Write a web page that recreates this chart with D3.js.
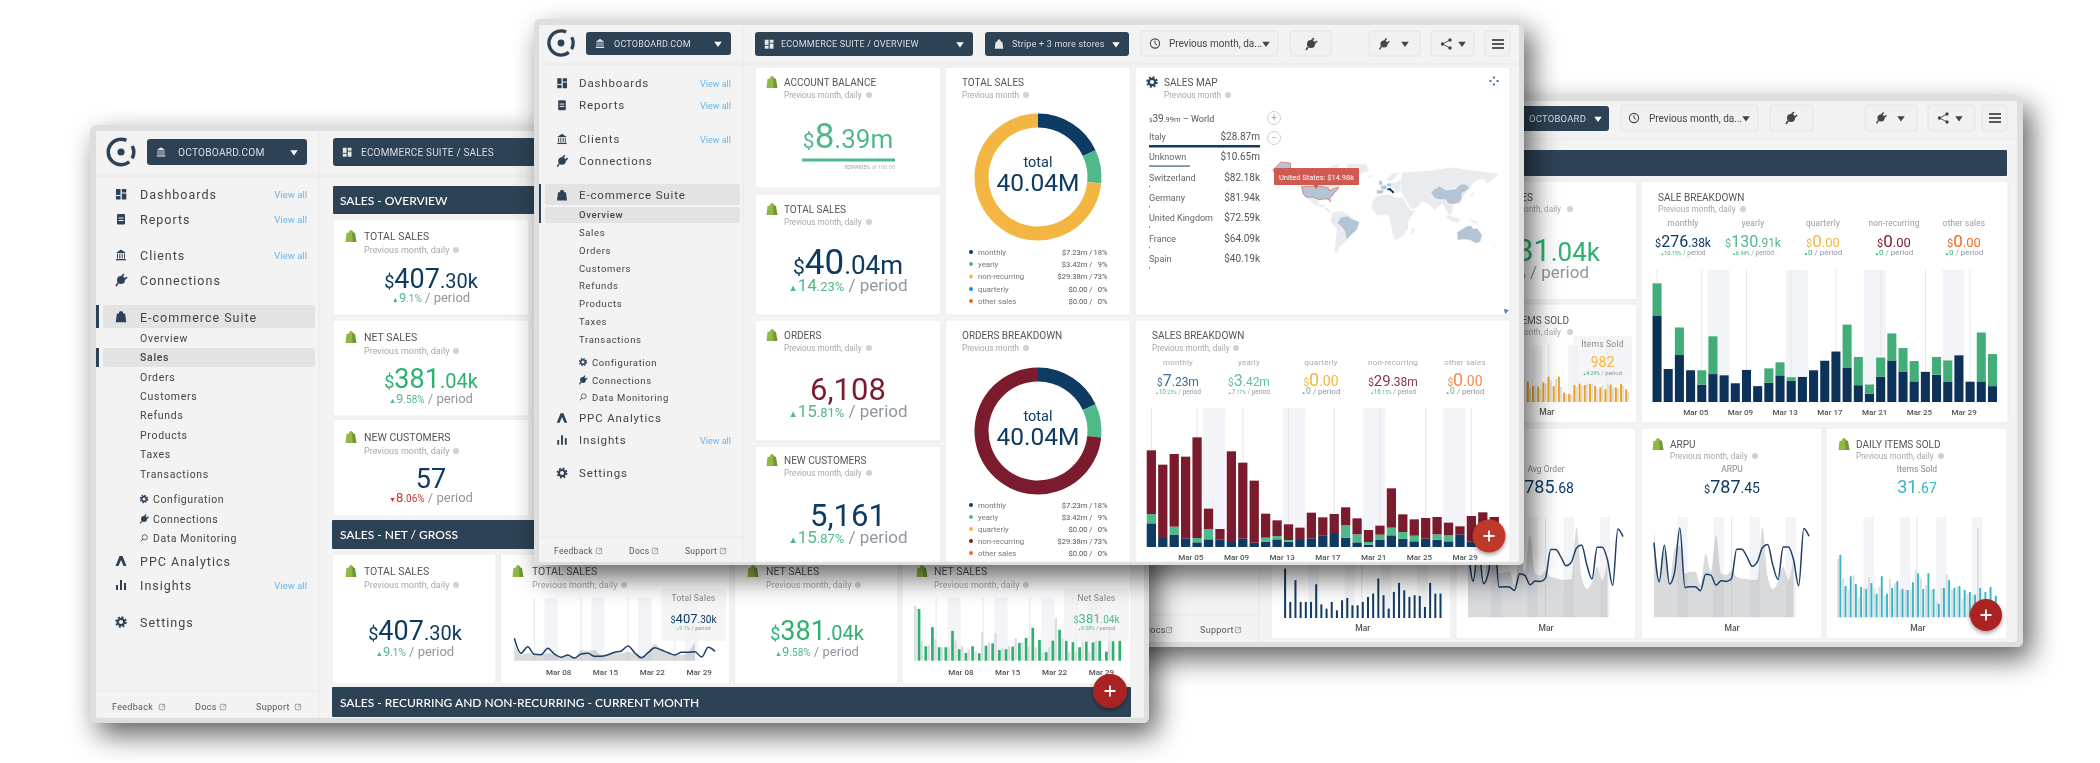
<!DOCTYPE html>
<html>
<head>
<meta charset="utf-8">
<script src="https://cdn.jsdelivr.net/npm/d3@7"></script>
<style>
html, body { margin: 0; padding: 0; background: #fff; }
text { font-family: Roboto, "Open Sans", sans-serif; }
</style>
</head>
<body>
<div id="chart"></div>
<script>
// ---- data ----
var days = d3.range(1, 32);
var monthTicks = [5, 9, 13, 17, 21, 25, 29];
var weekTicks = [8, 15, 22, 29];
var weekendDays = [[6, 7], [13, 14], [20, 21], [27, 28]];

// sales breakdown, front window ($k per day)
var frontMonthly = [710, 270, 370, 260, 140, 230, 230, 150, 260, 130, 160, 230, 160, 210, 260, 350, 420, 280, 140, 70, 210, 350, 250, 170, 250, 220, 170, 380, 170, 160, 160];
var frontYearly = [280, 0, 240, 0, 130, 310, 0, 0, 0, 0, 120, 100, 50, 0, 0, 0, 0, 370, 240, 80, 160, 230, 200, 170, 0, 160, 180, 0, 0, 0, 0];
var frontNonRecurring = [1910, 2200, 2180, 2450, 3020, 610, 310, 2720, 2270, 1860, 720, 470, 470, 370, 770, 540, 570, 540, 480, 360, 270, 1180, 530, 490, 620, 520, 380, 240, 760, 880, 740];

// sale breakdown, right window ($k per day)
var rightMonthly = [27.1, 10.4, 14.8, 10.0, 5.5, 8.8, 8.4, 5.9, 10.1, 5.0, 6.1, 8.4, 6.7, 7.9, 10.0, 13.0, 15.9, 10.9, 5.3, 2.6, 8.0, 13.1, 9.6, 6.5, 9.5, 8.6, 6.3, 14.7, 6.4, 6.5, 5.0];
var rightYearly = [10.3, 0, 8.7, 0, 4.5, 11.9, 0, 0, 0, 0, 4.5, 4.1, 1.1, 0, 0, 0, 0, 13.5, 8.9, 2.9, 6.0, 8.5, 7.4, 6.4, 0, 5.6, 6.8, 0, 0, 15.4, 10.1];

// left window mini charts ($k per day)
var totalSalesLine = [36.9, 12.1, 23.1, 10.5, 9.9, 20.4, 11, 5.5, 9.4, 4.4, 11, 12.1, 7.2, 7.2, 9.9, 13.8, 16, 24.2, 13.2, 5, 13.2, 21.5, 17.6, 13.2, 9.4, 13.8, 13.8, 14.9, 6, 22, 15.4];
var totalSalesPrev = [28.6, 9.4, 12.1, 11, 9.4, 12.1, 9.4, 5.5, 7.7, 5.5, 17.6, 16, 17.6, 9.4, 9.4, 12.1, 12.1, 14.9, 12.1, 5.5, 14.9, 27.5, 17.6, 12.1, 9.4, 9.4, 14.9, 31.4];
var netSalesBars = [33, 9.2, 21.4, 8.6, 8.6, 19, 7.3, 4.9, 9.2, 4.7, 9.6, 11.1, 6.8, 7.3, 9, 11.3, 14.6, 21, 13.3, 5.4, 12.8, 19.7, 12.6, 11.8, 8.6, 12.2, 11.6, 12.8, 5.8, 12.4, 12.8];
var netSalesPrev = [34.7, 12.8, 10, 13.7, 8.6, 8.6, 12.8, 9.4, 7.3, 5.8, 18, 11.6, 17.5, 8.1, 9.4, 14.3, 11.6, 9, 8.6, 5.1, 8.6, 27.2, 14.3, 5.8, 5.8, 12.2, 5.8, 13.3, 0.9, 20.1];

// right window mini charts
var arpuLine = [1125, 535, 1085, 500, 685, 1345, 450, 460, 460, 400, 650, 635, 485, 550, 540, 585, 1025, 1025, 910, 770, 835, 1050, 1095, 785, 570, 1060, 1060, 870, 475, 1335, 1220];
var arpuPrev = [1310, 585, 1010, 535, 1035, 1085, 660, 685, 685, 485, 960, 685, 1235, 660, 635, 700, 610, 585, 575, 560, 570, 1360, 610, 425, 535, 760, 560, 885];
var avgOrderLine = [1120, 540, 1080, 505, 690, 1340, 455, 460, 455, 405, 655, 630, 490, 545, 540, 590, 1020, 1020, 905, 775, 830, 1045, 1090, 790, 575, 1055, 1055, 865, 480, 1330, 1215];
var avgOrderPrev = [1300, 590, 1005, 540, 1030, 1080, 665, 680, 690, 490, 955, 690, 1230, 665, 630, 705, 605, 590, 570, 565, 575, 1355, 605, 430, 530, 765, 555, 880];
var dailyItems = [64, 32, 42, 34, 31, 29, 35, 24, 42, 24, 30, 37, 29, 28, 36, 45, 29, 45, 29, 14, 30, 38, 30, 32, 28, 26, 23, 30, 26, 31, 22];
var dailyItemsPrev = [60, 40, 28, 43, 21, 30, 41, 30, 31, 22, 39, 35, 28, 28, 28, 49, 40, 33, 28, 17, 30, 44, 28, 31, 19, 24, 23, 91];
var ordersBars = [148, 48, 113, 48, 48, 48, 101, 41, 28, 48, 23, 53, 60, 38, 38, 48, 63, 73, 118, 68, 28, 78, 105, 83, 63, 68, 66, 33, 105, 73, 73];
var itemsSoldDays = days.slice(11);
var itemsSoldBars = [61, 48, 46, 59, 76, 48, 76, 28, 24, 51, 61, 51, 54, 48, 44, 38, 52, 44, 54, 38];
var itemsSoldPrev = [40, 50, 40, 55, 66, 70, 45, 25, 20, 45, 50, 60, 55, 40, 50, 65, 40, 40, 50, 30];

// donuts and legends
var donutNames = ["monthly", "yearly", "non-recurring"];
var donutShares = [7.23, 3.42, 29.38];
var legendTotals = ["monthly", "yearly", "non-recurring", "quarterly", "other sales"];
var legendOrders = ["monthly", "yearly", "quarterly", "non-recurring", "other sales"];
var legendAmounts = { "monthly": "$7.23m", "yearly": "$3.42m", "non-recurring": "$29.38m", "quarterly": "$0.00", "other sales": "$0.00" };
var legendPercents = { "monthly": "18%", "yearly": "9%", "non-recurring": "73%", "quarterly": "0%", "other sales": "0%" };

// sales map table
var mapCountries = ["Italy", "Unknown", "Switzerland", "Germany", "United Kingdom", "France", "Spain"];
var mapSales = [28870, 10650, 82.18, 81.94, 72.59, 64.09, 40.19];
var mapSalesLabels = ["$28.87m", "$10.65m", "$82.18k", "$81.94k", "$72.59k", "$64.09k", "$40.19k"];

// coarse land shapes, [lon, lat]
var landLight = [
    [[-141, 70], [-120, 70], [-100, 70], [-90, 75], [-70, 83], [-62, 82], [-75, 72], [-62, 66], [-78, 62], [-82, 55], [-65, 60], [-56, 52], [-66, 47], [-75, 45], [-83, 46], [-95, 49], [-124, 48], [-130, 55], [-141, 60]],
    [[-55, 83], [-25, 83], [-20, 72], [-40, 65], [-50, 60], [-55, 70]],
    [[-117, 32], [-106, 32], [-97, 26], [-97, 20], [-90, 21], [-87, 21], [-90, 16], [-95, 16], [-105, 20]],
    [[-92, 16], [-83, 15], [-78, 9], [-83, 8], [-88, 13]],
    [[-78, 9], [-62, 11], [-52, 5], [-35, -6], [-39, -18], [-48, -26], [-58, -38], [-66, -46], [-70, -55], [-74, -50], [-72, -30], [-70, -18], [-80, -5]],
    [[-17, 15], [-16, 25], [-6, 35], [10, 37], [20, 32], [32, 31], [37, 20], [43, 12], [51, 12], [40, -5], [40, -15], [33, -26], [20, -35], [15, -25], [12, -5], [9, 4], [-8, 4]],
    [[44, -16], [50, -15], [47, -25], [44, -24]],
    [[14, 54], [20, 55], [28, 60], [32, 46], [26, 40], [22, 37], [19, 42], [14, 46]],
    [[5, 59], [8, 58], [12, 56], [18, 60], [23, 66], [28, 71], [15, 68]],
    [[-24, 65], [-14, 66], [-15, 63], [-22, 63]],
    [[28, 41], [28, 60], [30, 70], [70, 73], [105, 78], [140, 73], [180, 68], [170, 60], [160, 52], [155, 60], [140, 55], [135, 45], [128, 38], [122, 30], [118, 23], [108, 20], [108, 12], [103, 2], [98, 10], [92, 22], [80, 12], [72, 20], [60, 25], [57, 20], [52, 15], [43, 13], [35, 30]],
    [[95, 5], [105, -5], [115, -8], [120, -2], [110, 2]],
    [[131, -2], [141, -3], [150, -9], [140, -8]],
    [[130, 33], [136, 36], [141, 41], [141, 36], [135, 33]],
    [[167, -46], [174, -41], [178, -38], [173, -44]]
];
var landTinted = [
    [[-70, -8], [-64, 2], [-52, 3], [-50, 0], [-35, -6], [-39, -18], [-48, -26], [-54, -33], [-57, -28], [-58, -20], [-65, -12]],
    [[74, 39], [80, 45], [88, 49], [97, 43], [112, 45], [120, 52], [127, 52], [134, 47], [128, 41], [122, 38], [122, 30], [118, 23], [108, 21], [100, 22], [97, 28], [85, 28], [78, 32]],
    [[114, -22], [122, -17], [130, -12], [136, -12], [140, -17], [145, -15], [153, -26], [150, -37], [143, -39], [135, -34], [125, -33], [115, -34]],
    [[-5, 50], [1, 51], [-2, 58], [-6, 57]],
    [[-4, 48], [3, 51], [7, 48], [7, 44], [-1, 43]],
    [[-9, 43], [-1, 43], [3, 42], [-1, 37], [-9, 37]],
    [[6, 51], [9, 54], [14, 53], [14, 48], [8, 48]]
];
var landUsa = [
    [[-124, 48], [-95, 49], [-83, 46], [-82, 42], [-75, 45], [-67, 47], [-70, 42], [-75, 38], [-76, 35], [-81, 31], [-80, 25], [-83, 29], [-90, 29], [-97, 28], [-100, 29], [-106, 32], [-117, 32], [-122, 37]],
    [[-168, 74], [-156, 86], [-141, 84], [-141, 68], [-150, 64], [-160, 62], [-165, 68]]
];
var landItaly = [[[7, 44], [12, 46], [13, 44], [18, 40], [16, 38], [12, 42]]];

// sidebars
var navTop = ["Dashboards", "Reports", "Clients", "Connections"];
var navTopIcons = ["grid", "clip", "bank", "plug"];
var navSuite = ["Overview", "Sales", "Orders", "Customers", "Refunds", "Products", "Taxes", "Transactions"];
var navTools = ["Configuration", "Connections", "Data Monitoring"];
var navToolIcons = ["gear", "plug", "search"];

// ---- colours ----
var navy = "#0e3a63", dark = "#2f4257", green = "#4fb98a", greenDeep = "#2fb170", maroon = "#7a1a2e",
    yellow = "#f4b642", blue = "#1d8fd8", orange = "#f26a21", teal = "#36b6c6", red = "#d5312e", grey = "#8f97a0";
var legendColor = { "monthly": navy, "yearly": green, "quarterly": blue, "other sales": orange };

var svg = d3.select('#chart').append('svg')
    .attr('width', 2100)
    .attr('height', 763)
    .style('display', 'block');

var defs = svg.append('defs');
var shadow = defs.append('filter').attr('id', 'winShadow')
    .attr('x', '-10%').attr('y', '-15%').attr('width', '125%').attr('height', '140%');
shadow.append('feDropShadow').attr('dx', 8).attr('dy', 12).attr('stdDeviation', 14)
    .attr('flood-color', '#000').attr('flood-opacity', 0.62);
var fabShadow = defs.append('filter').attr('id', 'fabShadow')
    .attr('x', '-50%').attr('y', '-50%').attr('width', '200%').attr('height', '200%');
fabShadow.append('feDropShadow').attr('dx', 0).attr('dy', 2).attr('stdDeviation', 2)
    .attr('flood-color', '#000').attr('flood-opacity', 0.4);

// ---- small helpers ----
function txt(g, x, y, s, size, color, anchor, weight, spacing) {
    return g.append('text')
        .attr('x', x).attr('y', y)
        .attr('font-size', size)
        .attr('fill', color || '#555')
        .attr('text-anchor', anchor || 'start')
        .attr('font-weight', weight || 400)
        .attr('letter-spacing', spacing || 0)
        .text(s);
}

// several sizes on one baseline: parts are [text, size, colour]
function rich(g, x, y, parts, color, anchor) {
    var t = g.append('text').attr('x', x).attr('y', y)
        .attr('text-anchor', anchor || 'middle');
    parts.forEach(function(p) {
        t.append('tspan').attr('font-size', p[1]).attr('fill', p[2] || color).text(p[0]);
    });
    return t;
}

function box(g, x0, y0, x1, y1, fill, rx, stroke) {
    return g.append('rect')
        .attr('x', x0).attr('y', y0)
        .attr('width', x1 - x0).attr('height', y1 - y0)
        .attr('fill', fill)
        .attr('rx', rx || 0)
        .attr('stroke', stroke || 'none');
}

function card(g, x0, y0, x1, y1) {
    return box(g, x0, y0, x1, y1, '#fff', 2, '#ebebeb');
}

function bag(g, x, y, s, color) {
    var c = g.append('g').attr('transform', 'translate(' + x + ',' + y + ') scale(' + s + ')');
    c.append('path').attr('d', 'M-5.5,6 L-4.5,-3 L-2,-3.5 C-2,-7 2,-7 2,-3.5 L4,-3 L5.5,6 Z').attr('fill', color);
    c.append('path').attr('d', 'M1,-5 L4,-3 L5.5,6 L1.5,6 Z').attr('fill', '#000').attr('opacity', 0.18);
}

function navIcon(g, type, x, y, s, color) {
    var c = g.append('g').attr('transform', 'translate(' + x + ',' + y + ') scale(' + s + ')')
        .attr('fill', color).attr('stroke', 'none');
    if (type == 'grid') {
        c.append('rect').attr('x', -5).attr('y', -5).attr('width', 4.5).attr('height', 6);
        c.append('rect').attr('x', 0.8).attr('y', -5).attr('width', 4.5).attr('height', 3.5);
        c.append('rect').attr('x', -5).attr('y', 2).attr('width', 4.5).attr('height', 3.5);
        c.append('rect').attr('x', 0.8).attr('y', -0.5).attr('width', 4.5).attr('height', 6);
    } else if (type == 'clip') {
        c.append('rect').attr('x', -4).attr('y', -5).attr('width', 8).attr('height', 10.5).attr('rx', 1);
        c.append('rect').attr('x', -2.5).attr('y', -1.5).attr('width', 5).attr('height', 1).attr('fill', '#f3f3f3');
        c.append('rect').attr('x', -2.5).attr('y', 1).attr('width', 5).attr('height', 1).attr('fill', '#f3f3f3');
    } else if (type == 'bank') {
        c.append('path').attr('d', 'M-5,-2 L0,-5.5 L5,-2 Z');
        [-3.5, -1.2, 1.2, 3.5].forEach(function(d) {
            c.append('rect').attr('x', d - 0.5).attr('y', -1.5).attr('width', 1).attr('height', 5);
        });
        c.append('rect').attr('x', -5).attr('y', 4).attr('width', 10).attr('height', 1.3);
    } else if (type == 'plug') {
        c.append('circle').attr('r', 4);
        c.append('path').attr('d', 'M0,-3 L3,-6 M3,0 L6,-3 M-3,3 L-5,6')
            .attr('stroke', color).attr('stroke-width', 1.6);
    } else if (type == 'gear') {
        c.append('circle').attr('r', 3.2).attr('fill', 'none').attr('stroke', color).attr('stroke-width', 2.2);
        c.append('circle').attr('r', 4.9).attr('fill', 'none').attr('stroke', color).attr('stroke-width', 1.7).attr('stroke-dasharray', '2 1.85');
    } else if (type == 'search') {
        c.append('circle').attr('cx', 1).attr('cy', -1).attr('r', 3.4).attr('fill', 'none').attr('stroke', color).attr('stroke-width', 1);
        c.append('path').attr('d', 'M-1.4,1.4 L-4.5,4.5').attr('stroke', color).attr('stroke-width', 1.2);
    } else if (type == 'ppc') {
        c.append('path').attr('d', 'M-5.5,5 L-1.5,-5 L1.5,-5 L5.5,5 L2.5,5 L0,-1 L-2.5,5 Z');
    } else if (type == 'bars') {
        c.append('rect').attr('x', -5).attr('y', 0).attr('width', 2).attr('height', 5);
        c.append('rect').attr('x', -1).attr('y', -5).attr('width', 2).attr('height', 10);
        c.append('rect').attr('x', 3).attr('y', -2).attr('width', 2).attr('height', 7);
    } else if (type == 'bag') {
        c.append('path').attr('d', 'M-5,5.5 L-4,-2.5 L-2,-3 C-2,-6 2,-6 2,-3 L4,-2.5 L5,5.5 Z');
    } else if (type == 'clock') {
        c.append('circle').attr('r', 4.6).attr('fill', 'none').attr('stroke', color).attr('stroke-width', 1.1);
        c.append('path').attr('d', 'M0,-2.8 L0,0 L2,1.4').attr('fill', 'none').attr('stroke', color).attr('stroke-width', 1);
    } else if (type == 'share') {
        c.append('path').attr('d', 'M4,-4 L-3.5,0 L4,4').attr('fill', 'none').attr('stroke', color).attr('stroke-width', 0.9);
        [[4, -4], [-3.5, 0], [4, 4]].forEach(function(d) {
            c.append('circle').attr('cx', d[0]).attr('cy', d[1]).attr('r', 1.7);
        });
    } else if (type == 'menu') {
        [-4, 0, 4].forEach(function(d) {
            c.append('rect').attr('x', -6).attr('y', d - 0.8).attr('width', 12).attr('height', 1.6);
        });
    } else if (type == 'expand') {
        [[0, -3.5], [3.5, 0], [0, 3.5], [-3.5, 0]].forEach(function(d) {
            c.append('rect').attr('x', d[0] - 1).attr('y', d[1] - 1).attr('width', 2).attr('height', 2);
        });
    } else if (type == 'ext') {
        c.append('rect').attr('x', -3).attr('y', -3).attr('width', 6).attr('height', 6).attr('rx', 0.8)
            .attr('fill', 'none').attr('stroke', color).attr('stroke-width', 0.7);
        c.append('path').attr('d', 'M-0.5,0.5 L3,-3').attr('stroke', color).attr('stroke-width', 0.7);
    }
}

function caret(g, x, y, color) {
    g.append('path')
        .attr('d', d3.symbol().type(d3.symbolTriangle).size(30))
        .attr('transform', 'translate(' + x + ',' + y + ') rotate(180) scale(0.9,0.75)')
        .attr('fill', color);
}

function logo(g, x, y, s) {
    var c = g.append('g').attr('transform', 'translate(' + x + ',' + y + ') scale(' + s + ')');
    var deg = Math.PI / 180;
    var ring = d3.arc().innerRadius(11).outerRadius(14.5);
    c.append('path').attr('fill', dark).attr('d', ring({ startAngle: 140 * deg, endAngle: 385 * deg }));
    c.append('path').attr('fill', dark).attr('d', ring({ startAngle: 62 * deg, endAngle: 120 * deg }));
    c.append('circle').attr('r', 3.6).attr('fill', dark);
}

function darkButton(g, x0, x1, y0, y1, icon, label, labelX, size) {
    box(g, x0, y0, x1, y1, dark, 3);
    if (icon) navIcon(g, icon, x0 + 14, (y0 + y1) / 2, 0.85, '#e3e7ea');
    txt(g, labelX, (y0 + y1) / 2 + size * 0.36, label, size, '#d7dde2', 'start', 400, 0.2);
    caret(g, x1 - 13, (y0 + y1) / 2, '#fff');
}

function greyButton(g, x0, x1, y0, y1) {
    box(g, x0, y0, x1, y1, '#f1f1f1', 3, '#e4e4e4');
}

function fab(g, x, y, r, color) {
    g.append('circle').attr('cx', x).attr('cy', y).attr('r', r).attr('fill', color).attr('filter', 'url(#fabShadow)');
    g.append('path').attr('d', 'M' + (x - 5.5) + ',' + y + ' H' + (x + 5.5) + ' M' + x + ',' + (y - 5.5) + ' V' + (y + 5.5))
        .attr('stroke', '#fff').attr('stroke-width', 1.8);
}

function cardHead(g, iconX, textX, y, title, subtitle, titleSize, subSize, dotX, subOffset) {
    var off = subOffset || 16;
    if (iconX) bag(g, iconX, y, 1, '#8fb845');
    txt(g, textX, y + 3.5, title, titleSize, '#555');
    txt(g, textX, y + off, subtitle, subSize, '#a8a8a8');
    g.append('circle').attr('cx', dotX).attr('cy', y + off - 3).attr('r', 3).attr('fill', '#d2d2d2');
}

function deltaParts(arrow, whole, rest, color, bigSize, smallSize, perSize) {
    return [[arrow, perSize * 0.55, color], [whole, bigSize, color], [rest, smallSize, color], [' / period', perSize, grey]];
}

// weekend shading, thin grid lines
function dayGrid(g, bandX, bandEnd, gridX, gridDays, top, base) {
    g.selectAll('.band').data(weekendDays).enter().append('rect')
        .attr('x', function(d) { return bandX(d[0]); })
        .attr('y', top)
        .attr('width', function(d) { return bandEnd(d[1]) - bandX(d[0]); })
        .attr('height', base - top)
        .attr('fill', '#f3f4f7');
    g.selectAll('.gridline').data(gridDays).enter().append('line')
        .attr('x1', gridX).attr('x2', gridX)
        .attr('y1', top).attr('y2', base)
        .attr('stroke', '#e6e7e9').attr('stroke-width', 1);
}

function dayAxis(g, scale, ticks, format, y, offset, size) {
    var ax = g.append('g')
        .attr('transform', 'translate(' + offset + ',' + y + ')')
        .call(d3.axisBottom(scale).tickValues(ticks).tickSize(0).tickPadding(0).tickFormat(format));
    ax.select('.domain').remove();
    ax.selectAll('text')
        .attr('font-size', size)
        .attr('font-family', 'Roboto')
        .attr('font-weight', 500)
        .attr('fill', '#555')
        .attr('dy', 0);
}

function marchLabel(d) {
    return 'Mar ' + (d < 10 ? '0' + d : d);
}

// stacked daily bars, keys bottom to top
function stackedBars(g, series, colors, x0, x1, top, base, yMax) {
    var rows = days.map(function(d, i) {
        var r = { day: d };
        series.forEach(function(s, k) { r['s' + k] = s[i]; });
        return r;
    });
    var keys = series.map(function(s, k) { return 's' + k; });
    var x = d3.scaleBand().domain(days).range([x0, x1]).paddingInner(0.19).paddingOuter(0.09);
    var y = d3.scaleLinear().domain([0, yMax]).range([base, top]);
    dayGrid(g,
        function(d) { return x(d) - 0.8; },
        function(d) { return x(d) + x.bandwidth() + 0.8; },
        function(d) { return x(d) + x.bandwidth() / 2; },
        [1].concat(monthTicks), top, base);
    var layers = d3.stack().keys(keys)(rows);
    g.selectAll('.layer').data(layers).enter().append('g')
        .attr('fill', function(d, i) { return colors[i]; })
        .selectAll('rect').data(function(d) { return d; }).enter().append('rect')
        .attr('x', function(d) { return x(d.data.day); })
        .attr('y', function(d) { return y(d[1]); })
        .attr('width', x.bandwidth())
        .attr('height', function(d) { return y(d[0]) - y(d[1]); });
    return x;
}

// one small panel: bars over lighter bars of the period before
function miniBars(g, x0, pitch, top, base, yMax, color, values, prev, valueDays, barShift, prevShift, barW, prevW, gridDays) {
    var x = d3.scaleBand().domain(days).range([x0, x0 + pitch * 31]);
    var y = d3.scaleLinear().domain([0, yMax]).range([base, top]);
    dayGrid(g, x,
        function(d) { return x(d) + pitch; },
        function(d) { return x(d) + pitch * 0.3; },
        gridDays || [16], top, base);
    g.append('g').attr('fill', '#dcdde0').selectAll('rect').data(prev).enter().append('rect')
        .attr('x', function(d, i) { return x(valueDays[i]) + prevShift; })
        .attr('y', function(d) { return y(d); })
        .attr('width', prevW)
        .attr('height', function(d) { return base - y(d); });
    g.append('g').attr('fill', color).selectAll('rect').data(values).enter().append('rect')
        .attr('x', function(d, i) { return x(valueDays[i]) + barShift; })
        .attr('y', function(d) { return y(d); })
        .attr('width', barW)
        .attr('height', function(d) { return base - y(d); });
    return x;
}

// one small panel: line over the grey area of the period before
function miniLine(g, x0, x1, top, base, yMax, grid, values, prev) {
    var x = d3.scalePoint().domain(days).range([x0, x1]);
    var half = x.step() / 2;
    var y = d3.scaleLinear().domain([0, yMax]).range([base, top]);
    dayGrid(g,
        function(d) { return x(d) - half; },
        function(d) { return x(d) + half; },
        x, grid, top, base);
    g.append('path').datum(prev)
        .attr('fill', '#8c9096').attr('opacity', 0.33)
        .attr('d', d3.area().curve(d3.curveMonotoneX)
            .x(function(d, i) { return x(days[i]); })
            .y0(base)
            .y1(function(d) { return y(d); }));
    g.append('path').datum(values)
        .attr('fill', 'none').attr('stroke', '#1d4068').attr('stroke-width', 1.5)
        .attr('d', d3.line().curve(d3.curveMonotoneX)
            .x(function(d, i) { return x(days[i]); })
            .y(function(d) { return y(d); }));
    return x;
}

function donut(g, cx, cy, names, shares, colorOf) {
    var pie = d3.pie().sort(null);
    var arc = d3.arc().innerRadius(49.5).outerRadius(63.5);
    var c = g.append('g').attr('transform', 'translate(' + cx + ',' + cy + ')');
    c.selectAll('path').data(pie(shares)).enter().append('path')
        .attr('d', arc)
        .attr('fill', function(d, i) { return colorOf[names[i]]; });
    txt(c, 0, -10, 'total', 14.5, navy, 'middle');
    txt(c, 0, 13.5, '40.04M', 24.5, navy, 'middle');
}

function donutLegend(g, names, ys, colorOf) {
    names.forEach(function(n, i) {
        g.append('circle').attr('cx', 971).attr('cy', ys[i]).attr('r', 2).attr('fill', colorOf[n]);
        txt(g, 978, ys[i] + 2.8, n, 7.8, '#777');
        txt(g, 1107.5, ys[i] + 2.8, legendPercents[n], 7.6, '#555', 'end');
        txt(g, 1092.5, ys[i] + 2.8, legendAmounts[n] + ' /', 7.6, '#555', 'end');
    });
}

function footer(g, y, size, labelX, iconX) {
    ['Feedback', 'Docs', 'Support'].forEach(function(n, i) {
        txt(g, labelX[i], y, n, size, '#555', 'start', 400, 0.3);
        navIcon(g, 'ext', iconX[i], y - 3, 0.9, '#777');
    });
}

// ---- right window, furthest back ----
function drawRightWindow() {
    var g = svg.append('g').attr('filter', 'url(#winShadow)');
    box(g, 1000, 95, 2023, 647, '#dedede', 6);
    box(g, 1005, 101, 2017, 642, '#f3f3f3', 2);
    g.append('line').attr('x1', 1005).attr('x2', 2017).attr('y1', 139).attr('y2', 139).attr('stroke', '#e8e8e8');
    g.append('line').attr('x1', 1259).attr('x2', 1259).attr('y1', 139).attr('y2', 642).attr('stroke', '#e8e8e8');
    g.append('line').attr('x1', 1005).attr('x2', 1259).attr('y1', 615).attr('y2', 615).attr('stroke', '#e8e8e8');
    footer(g, 633, 9, [1060, 1144, 1200], [1110, 1169, 1238]);

    box(g, 1400, 106, 1609, 131, dark, 3);
    txt(g, 1529, 122, 'OCTOBOARD', 9.5, '#d7dde2', 'start', 400, 0.2);
    caret(g, 1598, 118.5, '#fff');
    greyButton(g, 1621, 1758, 105, 131);
    navIcon(g, 'clock', 1634, 118, 1, '#444');
    txt(g, 1649, 122, 'Previous month, da...', 10, '#444');
    caret(g, 1746, 118, '#444');
    greyButton(g, 1770, 1813, 105, 131);
    navIcon(g, 'plug', 1791, 118, 1, '#444');
    greyButton(g, 1865, 1917, 105, 131);
    navIcon(g, 'plug', 1881, 118, 0.9, '#444');
    caret(g, 1901, 118, '#444');
    greyButton(g, 1928, 1975, 105, 131);
    navIcon(g, 'share', 1943, 118, 1, '#444');
    caret(g, 1959, 118, '#444');
    greyButton(g, 1982, 2007, 105, 131);
    navIcon(g, 'menu', 1995, 118, 1, '#333');

    box(g, 1280, 150, 2007, 176, dark, 1);

    // top cards, mostly behind the front window
    card(g, 1456, 181, 1637, 300);
    txt(g, 1533, 200.5, 'NET SALES', 10, '#555', 'end');
    txt(g, 1561, 212, 'Previous month, daily', 8.2, '#a8a8a8', 'end');
    g.append('circle').attr('cx', 1570).attr('cy', 209).attr('r', 3).attr('fill', '#d2d2d2');
    rich(g, 1600, 261, [['$', 20], ['381', 31], ['.04k', 26]], greenDeep, 'end');
    rich(g, 1589, 278, deltaParts('\u25B2', '9', '.58%', greenDeep, 16, 12, 17), greenDeep, 'end');

    card(g, 1456, 304, 1637, 423);
    txt(g, 1569, 323.5, 'ITEMS SOLD', 10, '#555', 'end');
    txt(g, 1561, 335, 'Previous month, daily', 8.2, '#a8a8a8', 'end');
    g.append('circle').attr('cx', 1570).attr('cy', 332).attr('r', 3).attr('fill', '#d2d2d2');
    var ix = miniBars(g, 1469.5, 5.18, 345, 402, 171, '#f0a11e', itemsSoldBars, itemsSoldPrev, itemsSoldDays, 0.3, 2.6, 2, 2);
    dayAxis(g, ix, [16], function() { return 'Mar'; }, 415, -3, 8.5);
    box(g, 1573, 336, 1632, 384, '#f2f2f4', 3).attr('opacity', 0.75);
    txt(g, 1602.5, 347, 'Items Sold', 8.5, '#888', 'middle', 400, 0.2);
    txt(g, 1602.5, 367, '982', 14, '#f4b642', 'middle');
    rich(g, 1602.5, 375, deltaParts('\u25B2', '4', '.24%', greenDeep, 5.5, 5, 6), greenDeep);

    // sale breakdown
    card(g, 1641, 181, 2008, 423);
    cardHead(g, null, 1658, 197, 'SALE BREAKDOWN', 'Previous month, daily', 10, 8.2, 1743, 15);
    var cols = [1683, 1753, 1823, 1894, 1964];
    var colNames = ['monthly', 'yearly', 'quarterly', 'non-recurring', 'other sales'];
    var colColors = [navy, green, yellow, maroon, orange];
    var colParts = [[['$', 11], ['276', 16], ['.38k', 12]], [['$', 11], ['130', 16], ['.91k', 12]], [['$', 11], ['0', 17], ['.00', 13]], [['$', 11], ['0', 17], ['.00', 13]], [['$', 11], ['0', 17], ['.00', 13]]];
    var colDelta = [deltaParts('\u25B2', '10', '.15%', greenDeep, 6, 5, 6.5), deltaParts('\u25B2', '6', '.94%', greenDeep, 6, 5, 6.5), deltaParts('\u25B2', '0', '', greenDeep, 8, 6, 8), deltaParts('\u25B2', '0', '', greenDeep, 8, 6, 8), deltaParts('\u25B2', '0', '', greenDeep, 8, 6, 8)];
    cols.forEach(function(cx, i) {
        txt(g, cx, 226, colNames[i], 8.2, '#999', 'middle', 400, 0.2);
        rich(g, cx, 247, colParts[i], colColors[i]);
        rich(g, cx, 255, colDelta[i], greenDeep);
    });
    var x = stackedBars(g, [rightMonthly, rightYearly], ['#0f325a', '#43ad78'], 1651.5, 1998, 270, 402, 41.6);
    dayAxis(g, x, monthTicks, marchLabel, 415, -6, 8);

    // bottom row
    card(g, 1271, 428, 1451, 639);
    card(g, 1456, 428, 1636, 639);
    card(g, 1641, 428, 1822, 639);
    card(g, 1826, 428, 2007, 639);

    var o = miniBars(g, 1282.5, 5.18, 517, 618, 302, '#143a64', ordersBars, [], days, 1.6, 0, 2, 2);
    dayAxis(g, o, [16], function() { return 'Mar'; }, 631, 0, 8.5);

    txt(g, 1546, 472, 'Avg Order', 8.5, '#888', 'middle');
    rich(g, 1546, 493, [['$', 11], ['785', 18], ['.68', 14]], navy);
    var a = miniLine(g, 1468, 1623, 517, 617.3, 1510, [16], avgOrderLine, avgOrderPrev);
    dayAxis(g, a, [16], function() { return 'Mar'; }, 631, 0, 8.5);

    cardHead(g, 1658, 1670, 444, 'ARPU', 'Previous month, daily', 10, 8.2, 1755, 15);
    txt(g, 1732, 472, 'ARPU', 8.5, '#888', 'middle');
    rich(g, 1732, 493, [['$', 11], ['787', 18], ['.45', 14]], navy);
    var b = miniLine(g, 1654, 1809, 517, 617.3, 1510, [16], arpuLine, arpuPrev);
    dayAxis(g, b, [16], function() { return 'Mar'; }, 631, 0, 8.5);

    cardHead(g, 1844, 1856, 444, 'DAILY ITEMS SOLD', 'Previous month, daily', 10, 8.2, 1941, 15);
    txt(g, 1917, 472, 'Items Sold', 8.5, '#888', 'middle');
    rich(g, 1917, 493, [['31', 18], ['.67', 14]], teal);
    var c = miniBars(g, 1837.6, 5.18, 517, 617.3, 102.7, teal, dailyItems, dailyItemsPrev, days.slice(0, 31), 1.8, -0.5, 1.9, 1.9);
    dayAxis(g, c, [16], function() { return 'Mar'; }, 631, 0, 8.5);

    fab(g, 1986, 615, 16, '#ab2420');
}

// ---- left window ----
function drawLeftWindow() {
    var g = svg.append('g').attr('filter', 'url(#winShadow)');
    box(g, 90, 125, 1149, 723, '#dedede', 6);
    box(g, 96, 131, 1144, 718, '#f3f3f3', 2);
    g.append('line').attr('x1', 96).attr('x2', 1144).attr('y1', 176).attr('y2', 176).attr('stroke', '#e8e8e8');
    g.append('line').attr('x1', 319).attr('x2', 319).attr('y1', 131).attr('y2', 718).attr('stroke', '#e8e8e8');
    g.append('line').attr('x1', 96).attr('x2', 319).attr('y1', 691).attr('y2', 691).attr('stroke', '#e8e8e8');

    logo(g, 121, 152, 1);
    darkButton(g, 147, 307, 139, 165, 'bank', 'OCTOBOARD.COM', 178, 10.2);
    darkButton(g, 333, 700, 138, 166, 'grid', 'ECOMMERCE SUITE / SALES', 361, 10);

    var topY = [194, 219, 255, 280];
    navTop.forEach(function(n, i) {
        navIcon(g, navTopIcons[i], 121, topY[i], 1, dark);
        txt(g, 140, topY[i] + 4.5, n, 12.5, '#444', 'start', 400, 1);
        if (i < 3) txt(g, 307, topY[i] + 4, 'View all', 9.5, '#67b5ee', 'end');
    });
    box(g, 103, 305, 315, 328, '#e3e3e3', 3);
    box(g, 96, 305, 99, 328, dark);
    navIcon(g, 'bag', 121, 316.5, 1.05, dark);
    txt(g, 140, 321.5, 'E-commerce Suite', 12.5, '#444', 'start', 400, 1);
    box(g, 103, 348, 315, 367, '#e3e3e3', 3);
    box(g, 96, 348, 99, 367, dark);
    var subY = [338, 357, 377, 396, 415, 435, 454, 474];
    navSuite.forEach(function(n, i) {
        txt(g, 140, subY[i] + 4, n, 10.5, '#444', 'start', n == 'Sales' ? 500 : 400, 0.7);
    });
    var toolY = [499, 519, 538];
    navTools.forEach(function(n, i) {
        navIcon(g, navToolIcons[i], 144, toolY[i], 0.75, dark);
        txt(g, 153, toolY[i] + 4, n, 10.5, '#444', 'start', 400, 0.6);
    });
    navIcon(g, 'ppc', 121, 561, 1, dark);
    txt(g, 140, 565.5, 'PPC Analytics', 12.5, '#444', 'start', 400, 1);
    navIcon(g, 'bars', 121, 585, 1, dark);
    txt(g, 140, 589.5, 'Insights', 12.5, '#444', 'start', 400, 1);
    txt(g, 307, 589, 'View all', 9.5, '#67b5ee', 'end');
    navIcon(g, 'gear', 121, 622, 1, dark);
    txt(g, 140, 626.5, 'Settings', 12.5, '#444', 'start', 400, 1);
    footer(g, 710, 9, [112, 195, 256], [162, 223, 298]);

    // section bars
    box(g, 333, 186, 700, 214, dark, 1);
    txt(g, 340, 204.5, 'SALES - OVERVIEW', 12, '#fff', 'start', 500).style('font-family', 'Lato');
    box(g, 332, 520, 1131, 549, dark, 1);
    txt(g, 340, 539, 'SALES - NET / GROSS', 12, '#fff', 'start', 500).style('font-family', 'Lato');
    box(g, 332, 687, 1131, 717, dark, 1);
    txt(g, 340, 706.5, 'SALES - RECURRING AND NON-RECURRING - CURRENT MONTH', 12, '#fff', 'start', 500).style('font-family', 'Lato');

    // overview cards
    card(g, 333, 219, 529, 315);
    cardHead(g, 351, 364, 236, 'TOTAL SALES', 'Previous month, daily', 10.5, 9, 456, 17);
    rich(g, 431, 288, [['$', 18], ['407', 27], ['.30k', 20]], navy);
    rich(g, 431, 302, deltaParts('\u25B2', '9', '.1%', green, 13, 10, 13), green);
    card(g, 333, 320, 529, 416);
    cardHead(g, 351, 364, 337, 'NET SALES', 'Previous month, daily', 10.5, 9, 456, 17);
    rich(g, 431, 388, [['$', 18], ['381', 27], ['.04k', 20]], greenDeep);
    rich(g, 431, 403, deltaParts('\u25B2', '9', '.58%', green, 13, 10, 13), green);
    card(g, 333, 419, 529, 516);
    cardHead(g, 351, 364, 437, 'NEW CUSTOMERS', 'Previous month, daily', 10.5, 9, 456, 17);
    txt(g, 431, 488, '57', 27, navy, 'middle');
    rich(g, 431, 502, deltaParts('\u25BC', '8', '.06%', red, 13, 10, 13), red);

    // net / gross row
    card(g, 332, 554, 496, 684);
    cardHead(g, 351, 364, 571, 'TOTAL SALES', 'Previous month, daily', 10.5, 9, 456, 17);
    rich(g, 415, 640, [['$', 18], ['407', 27], ['.30k', 20]], navy);
    rich(g, 415, 656, deltaParts('\u25B2', '9', '.1%', green, 13, 10, 13), green);

    card(g, 500.5, 554, 730, 684);
    cardHead(g, 518, 532, 571, 'TOTAL SALES', 'Previous month, daily', 10.5, 9, 624, 17);
    var x = miniLine(g, 514.3, 715, 598, 660.7, 103.4, [4, 11, 18, 25], totalSalesLine, totalSalesPrev);
    dayAxis(g, x, weekTicks, marchLabel, 675, -3, 8);
    box(g, 661, 589, 726, 641, '#f2f2f4', 3).attr('opacity', 0.8);
    txt(g, 693.5, 601, 'Total Sales', 8.5, '#888', 'middle', 400, 0.2);
    rich(g, 693.5, 623, [['$', 9], ['407', 13], ['.30k', 10]], navy);
    rich(g, 693.5, 630, deltaParts('\u25B2', '9', '.1%', green, 5.5, 5, 5.5), green);

    card(g, 734.5, 554, 898, 684);
    cardHead(g, 753, 766, 571, 'NET SALES', 'Previous month, daily', 10.5, 9, 858, 17);
    rich(g, 817, 640, [['$', 18], ['381', 27], ['.04k', 20]], greenDeep);
    rich(g, 817, 656, deltaParts('\u25B2', '9', '.58%', green, 13, 10, 13), green);

    card(g, 902, 554, 1131, 684);
    cardHead(g, 922, 934, 571, 'NET SALES', 'Previous month, daily', 10.5, 9, 1026, 17);
    var n = miniBars(g, 914, 6.69, 598, 660.7, 40, greenDeep, netSalesBars, netSalesPrev, days.slice(0, 31), 3.7, 0.1, 2.7, 2.4, [4, 11, 18, 25]);
    dayAxis(g, n, weekTicks, marchLabel, 675, -3.3, 8);
    box(g, 1064, 589, 1129, 641, '#f2f2f4', 3).attr('opacity', 0.75);
    txt(g, 1096.5, 601, 'Net Sales', 8.5, '#888', 'middle', 400, 0.2);
    rich(g, 1096.5, 623, [['$', 9], ['381', 13], ['.04k', 10]], green);
    rich(g, 1096.5, 630, deltaParts('\u25B2', '9', '.58%', green, 5.5, 5, 5.5), green);

    fab(g, 1110, 691, 17, '#ab2420');
}

// ---- front window ----
function drawFrontWindow() {
    var g = svg.append('g').attr('filter', 'url(#winShadow)');
    box(g, 534, 19, 1524, 565, '#dedede', 6);
    box(g, 539, 25, 1519, 562, '#f3f3f3', 2);
    g.append('line').attr('x1', 539).attr('x2', 1519).attr('y1', 64).attr('y2', 64).attr('stroke', '#e8e8e8');
    g.append('line').attr('x1', 743).attr('x2', 743).attr('y1', 25).attr('y2', 562).attr('stroke', '#e8e8e8');
    g.append('line').attr('x1', 539).attr('x2', 743).attr('y1', 537).attr('y2', 537).attr('stroke', '#e8e8e8');

    logo(g, 561, 43, 0.95);
    darkButton(g, 586, 731, 32, 55, 'bank', 'OCTOBOARD.COM', 614, 9);
    darkButton(g, 755, 973, 32, 56, 'grid', 'ECOMMERCE SUITE / OVERVIEW', 781, 9);
    darkButton(g, 985, 1129, 32, 56, 'bag', 'Stripe + 3 more stores', 1012, 9);
    greyButton(g, 1141, 1278, 31, 56);
    navIcon(g, 'clock', 1155, 43.5, 1, '#444');
    txt(g, 1169, 47, 'Previous month, da...', 10, '#444');
    caret(g, 1266, 43.5, '#444');
    greyButton(g, 1290, 1331, 31, 56);
    navIcon(g, 'plug', 1311, 44, 1, '#444');
    greyButton(g, 1369, 1420, 31, 56);
    navIcon(g, 'plug', 1384, 44, 0.9, '#444');
    caret(g, 1405, 43.5, '#444');
    greyButton(g, 1431, 1474, 31, 56);
    navIcon(g, 'share', 1446, 44, 1, '#444');
    caret(g, 1462, 43.5, '#444');
    greyButton(g, 1485, 1510, 31, 56);
    navIcon(g, 'menu', 1498, 44, 1, '#333');

    // sidebar
    var topY = [83, 105, 139, 161];
    navTop.forEach(function(n, i) {
        navIcon(g, navTopIcons[i], 562, topY[i], 0.95, dark);
        txt(g, 579, topY[i] + 4, n, 11.5, '#444', 'start', 400, 0.85);
        if (i < 3) txt(g, 731, topY[i] + 3.5, 'View all', 9, '#67b5ee', 'end');
    });
    box(g, 545, 184, 740, 205, '#e3e3e3', 3);
    box(g, 539, 184, 541, 223, dark);
    navIcon(g, 'bag', 562, 195, 1, dark);
    txt(g, 579, 199, 'E-commerce Suite', 11.5, '#444', 'start', 400, 0.85);
    box(g, 545, 207, 740, 223, '#e3e3e3', 3);
    var subY = [214, 232, 250, 268, 285, 303, 321, 339];
    navSuite.forEach(function(n, i) {
        txt(g, 579, subY[i] + 3.5, n, 9.5, '#444', 'start', n == 'Overview' ? 500 : 400, 0.65);
    });
    var toolY = [362, 380, 397];
    navTools.forEach(function(n, i) {
        navIcon(g, navToolIcons[i], 583, toolY[i], 0.72, dark);
        txt(g, 592, toolY[i] + 3.5, n, 9.5, '#444', 'start', 400, 0.6);
    });
    navIcon(g, 'ppc', 562, 418, 0.95, dark);
    txt(g, 579, 422, 'PPC Analytics', 11.5, '#444', 'start', 400, 0.85);
    navIcon(g, 'bars', 562, 440, 0.95, dark);
    txt(g, 579, 444, 'Insights', 11.5, '#444', 'start', 400, 0.85);
    txt(g, 731, 443.5, 'View all', 9, '#67b5ee', 'end');
    navIcon(g, 'gear', 562, 473, 0.95, dark);
    txt(g, 579, 477, 'Settings', 11.5, '#444', 'start', 400, 0.85);
    footer(g, 554, 8.5, [554, 629, 685], [599, 655, 723]);

    // first column
    card(g, 755, 67, 941, 188);
    cardHead(g, 772, 784, 82, 'ACCOUNT BALANCE', 'Previous month, daily', 10, 8.2, 869);
    rich(g, 848, 148, [['$', 21], ['8', 35], ['.39m', 26]], green);
    box(g, 802, 158.5, 895, 161.5, green);
    rich(g, 895, 169, [['8399905%', 5.5, '#999'], [' of 100.00', 5.5, '#bbb']], '#999', 'end');

    card(g, 755, 194, 941, 315);
    cardHead(g, 772, 784, 209, 'TOTAL SALES', 'Previous month, daily', 10, 8.2, 869);
    rich(g, 848, 274, [['$', 21], ['40', 35], ['.04m', 26]], navy);
    rich(g, 848, 291, deltaParts('\u25B2', '14', '.23%', green, 17, 13, 17), green);

    card(g, 755, 320, 941, 441);
    cardHead(g, 772, 784, 335, 'ORDERS', 'Previous month, daily', 10, 8.2, 869);
    txt(g, 848, 400, '6,108', 31, maroon, 'middle');
    rich(g, 848, 417, deltaParts('\u25B2', '15', '.81%', green, 17, 13, 17), green);

    card(g, 755, 446, 941, 562);
    cardHead(g, 772, 784, 460, 'NEW CUSTOMERS', 'Previous month, daily', 10, 8.2, 869);
    txt(g, 848, 526, '5,161', 31, navy, 'middle');
    rich(g, 848, 543, deltaParts('\u25B2', '15', '.87%', green, 17, 13, 17), green);

    // donuts
    var totalsColors = Object.assign({}, legendColor, { "non-recurring": yellow });
    var ordersColors = Object.assign({}, legendColor, { "non-recurring": maroon, "quarterly": yellow });
    card(g, 945.5, 67, 1130.5, 315);
    cardHead(g, null, 962, 82, 'TOTAL SALES', 'Previous month', 10, 8.2, 1026);
    donut(g, 1038, 177, donutNames, donutShares, totalsColors);
    donutLegend(g, legendTotals, [252, 264, 276.5, 289, 301], totalsColors);

    card(g, 945.5, 320, 1130.5, 562);
    cardHead(g, null, 962, 335, 'ORDERS BREAKDOWN', 'Previous month', 10, 8.2, 1026);
    donut(g, 1038, 431, donutNames, donutShares, ordersColors);
    donutLegend(g, legendOrders, [505, 517, 529, 541, 553], ordersColors);

    // sales map
    card(g, 1135, 67, 1510, 315);
    navIcon(g, 'gear', 1152, 82, 1, dark);
    cardHead(g, null, 1164, 82, 'SALES MAP', 'Previous month', 10, 8.2, 1228);
    navIcon(g, 'expand', 1494, 81, 1, '#4c6f92');
    rich(g, 1149, 122, [['$', 6], ['39', 10], ['.99m', 7.5], [' \u2013 World', 9]], '#555', 'start');
    var barW = d3.scaleLinear().domain([0, mapSales[0]]).range([0, 111]);
    var rowY = d3.scalePoint().domain(mapCountries).range([140, 262]);
    mapCountries.forEach(function(n, i) {
        txt(g, 1149, rowY(n), n, 9, '#666');
        txt(g, 1260, rowY(n), mapSalesLabels[i], 10, '#555', 'end');
        box(g, 1149, rowY(n) + 5, 1149 + Math.max(1, barW(mapSales[i])), rowY(n) + (i == 0 ? 7.5 : 6.5),
            i == 0 ? navy : '#5c7fa3');
    });
    ['+', '\u2212'].forEach(function(s, i) {
        g.append('circle').attr('cx', 1274).attr('cy', 118 + i * 20).attr('r', 6.5)
            .attr('fill', '#fff').attr('stroke', '#cfcfcf');
        txt(g, 1274, 121 + i * 20, s, 10, '#aaa', 'middle');
    });

    var projection = d3.geoIdentity().reflectY(true).scale(0.652).translate([1382.5, 218]);
    var geo = d3.geoPath(projection);
    function land(rings, fill, stroke) {
        g.append('g').selectAll('path').data(rings).enter().append('path')
            .attr('d', function(d) { return geo({ type: 'Polygon', coordinates: [d.concat([d[0]])] }); })
            .attr('fill', fill)
            .attr('stroke', stroke).attr('stroke-width', 0.6);
    }
    land(landLight, '#e9ebee', '#fff');
    land(landTinted, '#b3c4d4', '#fff');
    land(landUsa, '#b3c4d4', '#d9534a');
    land(landItaly, navy, navy);

    box(g, 1274, 168, 1359, 185, '#cf5a50', 1);
    g.append('path').attr('d', d3.symbol().type(d3.symbolTriangle).size(14))
        .attr('transform', 'translate(1316,186) rotate(180)').attr('fill', '#cf5a50');
    txt(g, 1316.5, 179.5, 'United States: $14.98k', 7.5, '#fff', 'middle');
    g.append('path').attr('d', d3.symbol().type(d3.symbolTriangle).size(12))
        .attr('transform', 'translate(1506,311) rotate(-45)').attr('fill', '#5c7fa3');

    // sales breakdown
    card(g, 1135, 320, 1510, 562);
    cardHead(g, null, 1152, 335, 'SALES BREAKDOWN', 'Previous month, daily', 10, 8.2, 1236);
    var cols = [1178, 1249, 1321, 1393, 1465];
    var colNames = ['monthly', 'yearly', 'quarterly', 'non-recurring', 'other sales'];
    var colColors = ['#3f6c97', '#5cc49a', yellow, '#8e3348', '#f58a4b'];
    var colParts = [[['$', 10], ['7', 16], ['.23m', 12]], [['$', 10], ['3', 16], ['.42m', 12]], [['$', 10], ['0', 18], ['.00', 14]], [['$', 10], ['29', 15], ['.38m', 12]], [['$', 10], ['0', 18], ['.00', 14]]];
    var colDelta = [deltaParts('\u25B2', '10', '.23%', green, 6.5, 5, 6.5), deltaParts('\u25B2', '7', '.17%', green, 6.5, 5, 6.5), deltaParts('\u25B2', '0', '', green, 8.5, 6, 8), deltaParts('\u25B2', '16', '.15%', green, 6.5, 5, 6.5), deltaParts('\u25B2', '0', '', green, 8.5, 6, 8)];
    cols.forEach(function(cx, i) {
        txt(g, cx, 365, colNames[i], 8, '#aaa', 'middle', 400, 0.2);
        rich(g, cx, 386, colParts[i], colColors[i]);
        rich(g, cx, 394, colDelta[i], green);
    });
    var x = stackedBars(g, [frontMonthly, frontYearly, frontNonRecurring], [navy, green, maroon], 1145.7, 1499.9, 408, 547, 4170);
    dayAxis(g, x, monthTicks, marchLabel, 560, -6.3, 8);

    fab(g, 1489, 536, 16.5, '#c0392b');
}

drawRightWindow();
drawLeftWindow();
drawFrontWindow();
</script>
</body>
</html>
